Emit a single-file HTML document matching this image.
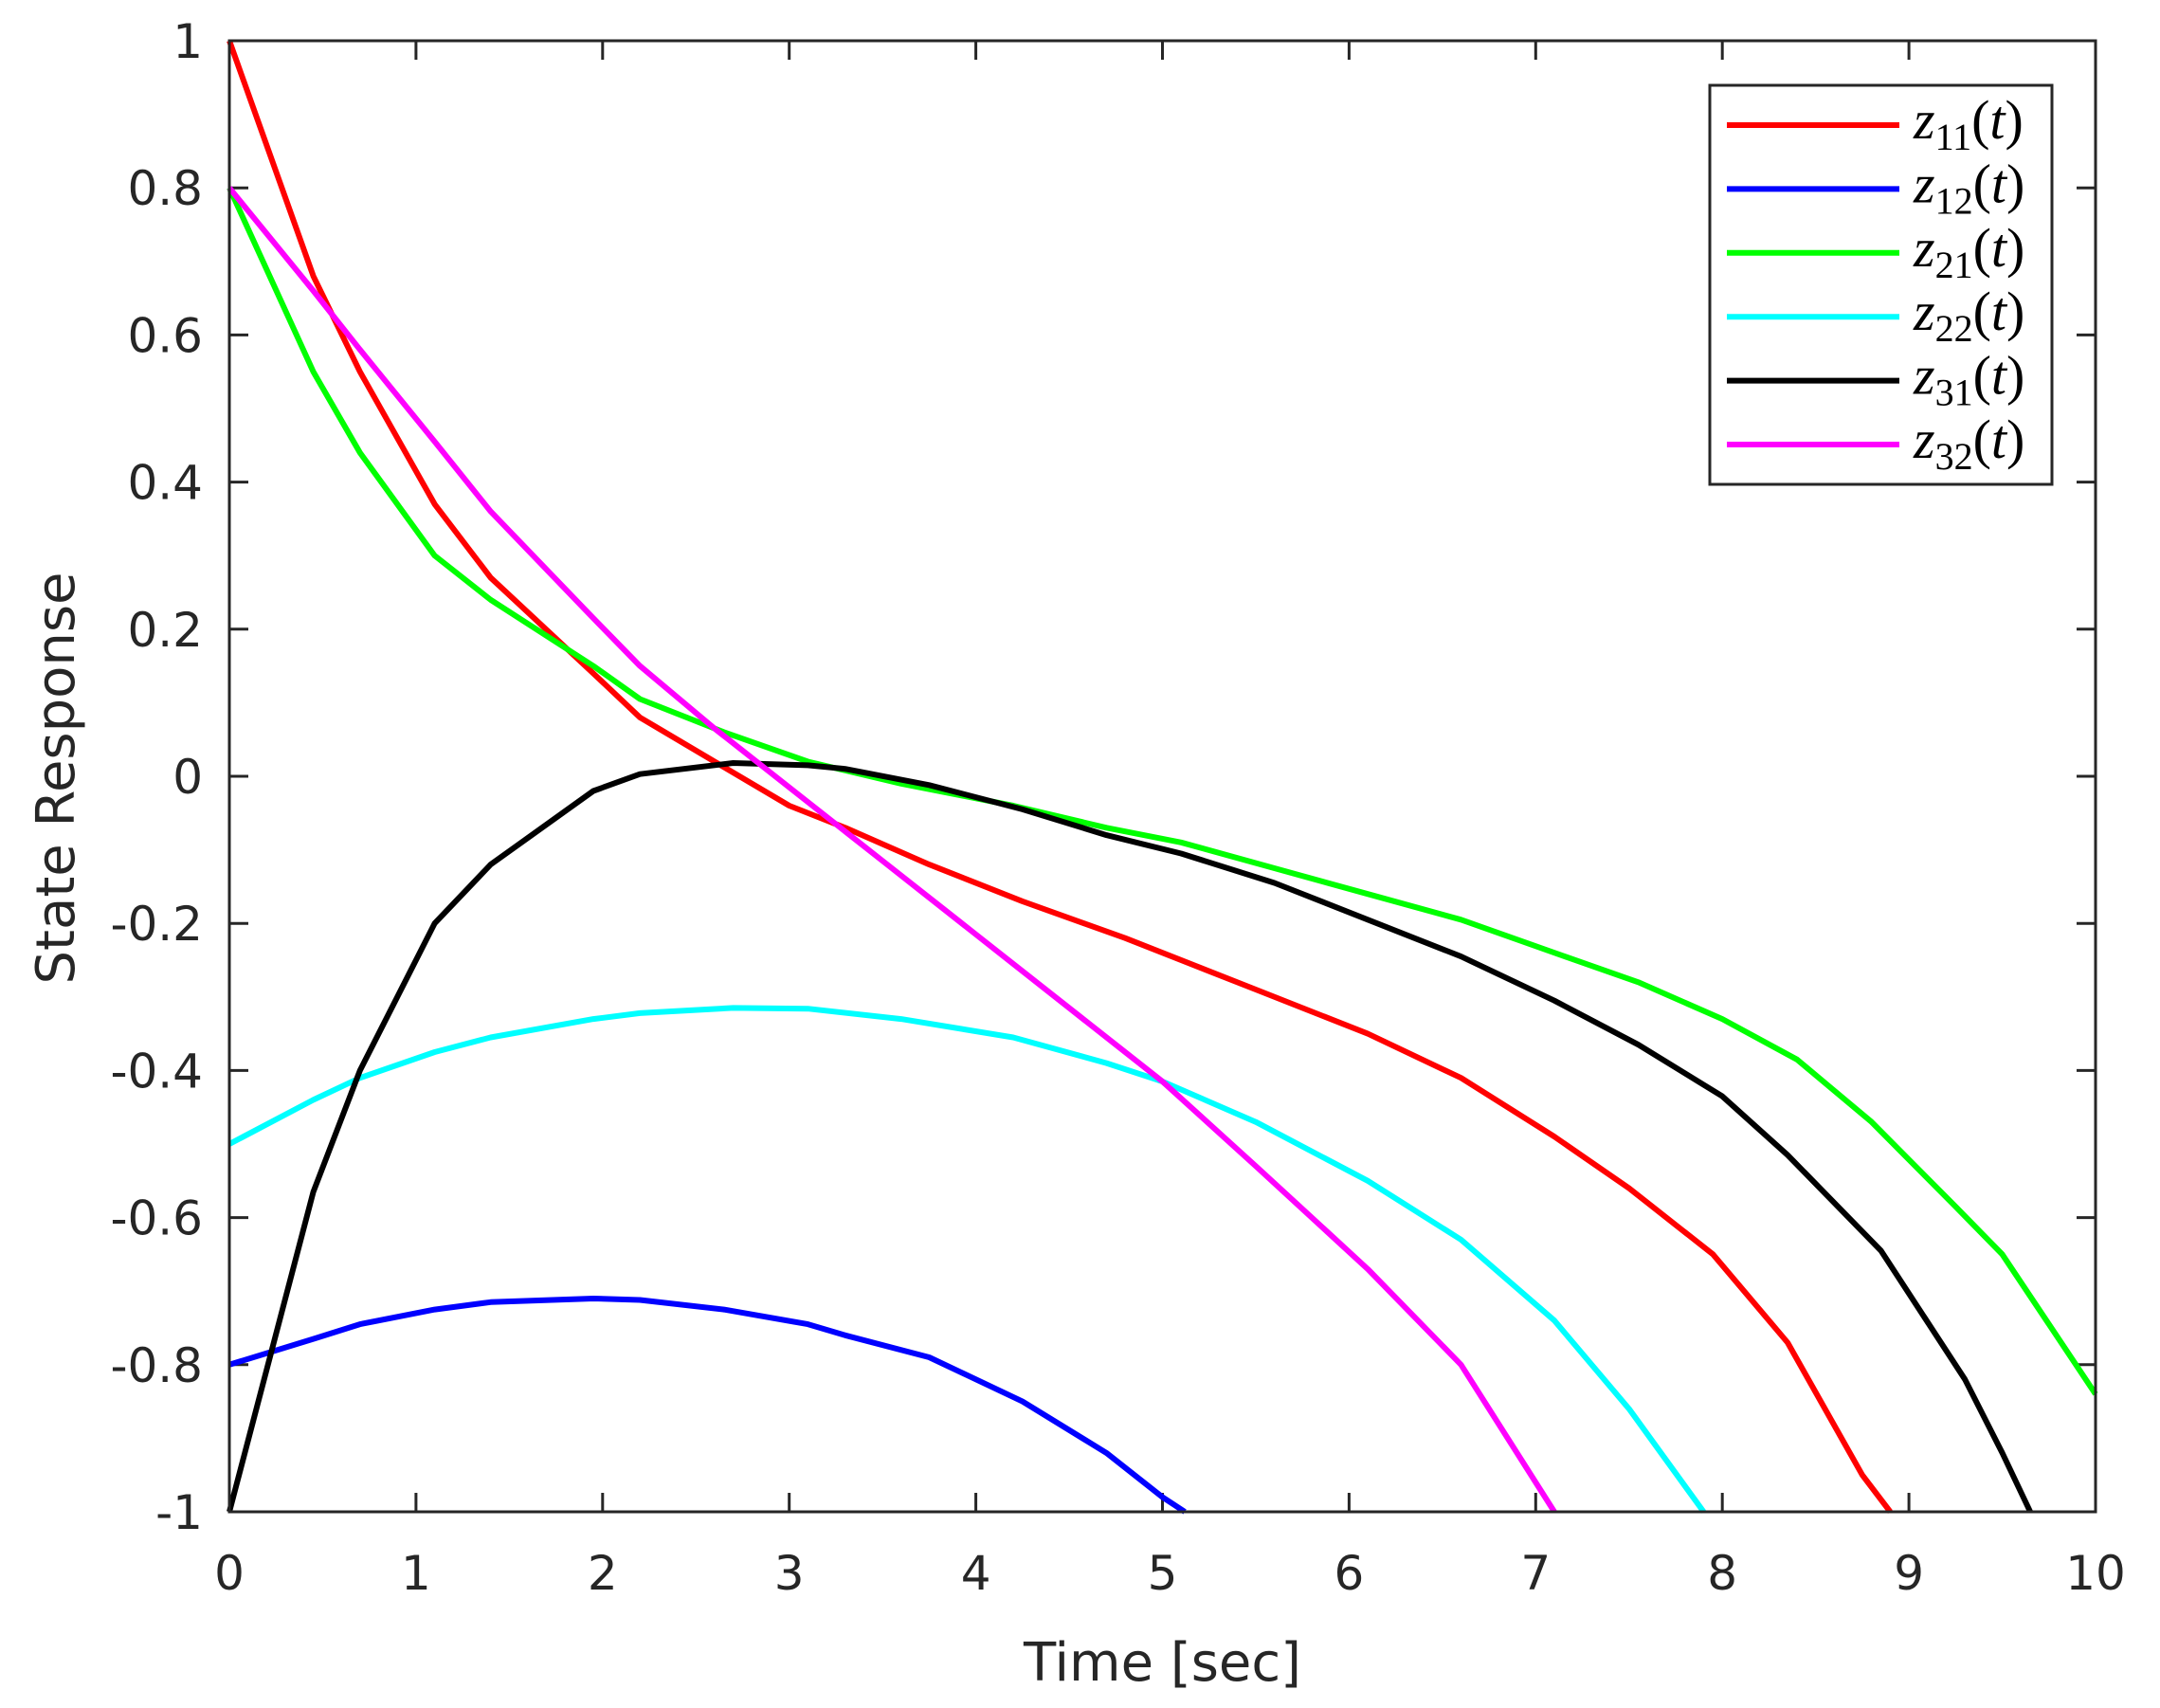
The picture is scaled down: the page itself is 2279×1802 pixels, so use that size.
<!DOCTYPE html>
<html><head><meta charset="utf-8"><style>
html,body{margin:0;padding:0;background:#fff;}
svg{display:block;font-family:"DejaVu Sans","Liberation Sans",sans-serif;}
</style></head><body>
<svg id="s" width="2279" height="1802" viewBox="0 0 2279 1802" xmlns="http://www.w3.org/2000/svg">
<rect width="2279" height="1802" fill="#fff"/>
<g id="g"></g>
</svg>
<script>
const L=242,R=2211,T=43,B=1595;
const X=t=>L+(R-L)*t/10, Y=v=>T+(B-T)*(1-v)/2;
const ns="http://www.w3.org/2000/svg", g=document.getElementById('g');
function el(n,a,txt){const e=document.createElementNS(ns,n);for(const k in a)e.setAttribute(k,a[k]);if(txt!==undefined)e.textContent=txt;g.appendChild(e);return e;}
const S={
'#ff0000':[[0,1],[0.45,0.68],[0.7,0.55],[1.1,0.37],[1.4,0.27],[1.95,0.14],[2.2,0.08],[2.6,0.02],[3,-0.04],[3.3,-0.07],[3.75,-0.12],[4.25,-0.17],[4.8,-0.22],[5.5,-0.29],[6.1,-0.35],[6.6,-0.41],[7.1,-0.49],[7.5,-0.56],[7.95,-0.65],[8.35,-0.77],[8.75,-0.95],[8.9,-1]],
'#0000ff':[[0,-0.8],[0.45,-0.765],[0.7,-0.745],[1.1,-0.725],[1.4,-0.715],[1.95,-0.71],[2.2,-0.712],[2.65,-0.725],[3.1,-0.745],[3.3,-0.76],[3.75,-0.79],[4.25,-0.85],[4.7,-0.92],[5,-0.98],[5.12,-1]],
'#00ff00':[[0,0.8],[0.45,0.55],[0.7,0.44],[1.1,0.3],[1.4,0.24],[1.95,0.15],[2.2,0.105],[2.65,0.06],[3.1,0.02],[3.6,-0.01],[4.2,-0.04],[4.7,-0.07],[5.1,-0.09],[5.6,-0.125],[6.1,-0.16],[6.6,-0.195],[7.1,-0.24],[7.55,-0.28],[8,-0.33],[8.4,-0.385],[8.8,-0.47],[9.25,-0.585],[9.5,-0.65],[10,-0.84]],
'#00ffff':[[0,-0.5],[0.45,-0.44],[0.7,-0.41],[1.1,-0.375],[1.4,-0.355],[1.95,-0.33],[2.2,-0.322],[2.7,-0.315],[3.1,-0.316],[3.6,-0.33],[4.2,-0.355],[4.7,-0.39],[5,-0.415],[5.5,-0.47],[6.1,-0.55],[6.6,-0.63],[7.1,-0.74],[7.5,-0.86],[7.9,-1]],
'#000000':[[0,-1],[0.45,-0.565],[0.7,-0.4],[1.1,-0.2],[1.4,-0.12],[1.95,-0.02],[2.2,0.003],[2.7,0.018],[3.1,0.015],[3.3,0.01],[3.75,-0.012],[4.25,-0.045],[4.7,-0.08],[5.1,-0.105],[5.6,-0.145],[6.1,-0.195],[6.6,-0.245],[7.1,-0.305],[7.55,-0.365],[8,-0.435],[8.35,-0.515],[8.85,-0.645],[9.3,-0.82],[9.5,-0.92],[9.65,-1]],
'#ff00ff':[[0,0.8],[0.45,0.66],[0.7,0.58],[1.1,0.455],[1.4,0.36],[1.95,0.215],[2.2,0.15],[2.6,0.065],[3.1,-0.035],[3.5,-0.115],[4,-0.215],[4.5,-0.315],[5,-0.415],[5.5,-0.53],[6.1,-0.67],[6.6,-0.8],[7.1,-1]]
};
for(let i=0;i<=10;i++){const x=X(i);
 el('line',{x1:x,y1:B,x2:x,y2:B-20,stroke:'#262626','stroke-width':3});
 el('line',{x1:x,y1:T,x2:x,y2:T+20,stroke:'#262626','stroke-width':3});
 el('text',{x:x,y:1677,'text-anchor':'middle','font-size':50,fill:'#262626'},String(i));}
for(let i=0;i<=10;i++){const v=-1+0.2*i,y=Y(v);
 el('line',{x1:L,y1:y,x2:L+20,y2:y,stroke:'#262626','stroke-width':3});
 el('line',{x1:R,y1:y,x2:R-20,y2:y,stroke:'#262626','stroke-width':3});
 let s=Math.abs(v)<1e-9?'0':(Math.abs(Math.abs(v)-1)<1e-9?(v<0?'-1':'1'):v.toFixed(1));
 el('text',{x:214,y:y+18,'text-anchor':'end','font-size':50,fill:'#262626'},s);}
for(const c in S){el('polyline',{points:S[c].map(p=>X(p[0]).toFixed(1)+','+Y(p[1]).toFixed(1)).join(' '),fill:'none',stroke:c,'stroke-width':6,'stroke-linejoin':'round'});}
el('rect',{x:L,y:T,width:R-L,height:B-T,fill:'none',stroke:'#262626','stroke-width':3});
el('text',{x:(L+R)/2,y:1773,'text-anchor':'middle','font-size':56,fill:'#262626'},'Time [sec]');
el('text',{x:0,y:0,'text-anchor':'middle','font-size':56,fill:'#262626',transform:'translate(78,821) rotate(-90)'},'State Response');
el('rect',{x:1804,y:90,width:361,height:421,fill:'#fff',stroke:'#262626','stroke-width':3});
const labs=[['#ff0000','11'],['#0000ff','12'],['#00ff00','21'],['#00ffff','22'],['#000000','31'],['#ff00ff','32']];
labs.forEach((l,i)=>{const y=132+i*67.4;
 el('line',{x1:1822,y1:y,x2:2004,y2:y,stroke:l[0],'stroke-width':6});
 const t=el('text',{x:2019,y:y+14,'font-size':58,fill:'#000','font-family':'Liberation Serif, serif'});
 const a=document.createElementNS(ns,'tspan');a.setAttribute('font-style','italic');a.textContent='z';t.appendChild(a);
 const b=document.createElementNS(ns,'tspan');b.setAttribute('font-size','40');b.setAttribute('dy','12');b.textContent=l[1];t.appendChild(b);
 const c=document.createElementNS(ns,'tspan');c.setAttribute('dy','-12');c.textContent='(';t.appendChild(c);
 const d=document.createElementNS(ns,'tspan');d.setAttribute('font-style','italic');d.textContent='t';t.appendChild(d);
 const e=document.createElementNS(ns,'tspan');e.textContent=')';t.appendChild(e);
});
</script>
</body></html>
